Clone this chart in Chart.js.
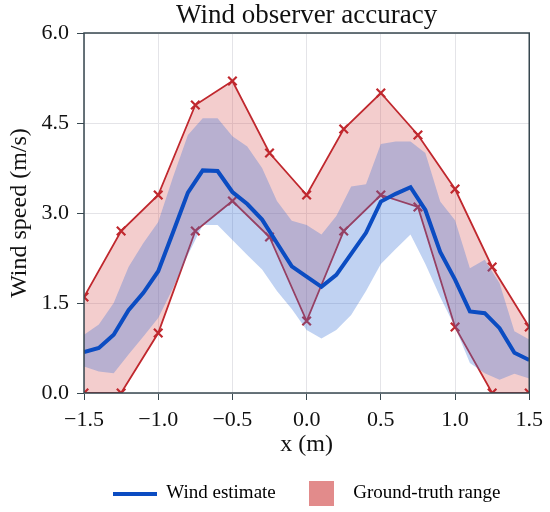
<!DOCTYPE html>
<html>
<head>
<meta charset="utf-8">
<script src="https://cdn.jsdelivr.net/npm/chart.js@4.4.1/dist/chart.umd.min.js"></script>
<style>
  html, body { margin: 0; padding: 0; background: #fff; }
  #wrap { width: 550px; height: 512px; }
</style>
</head>
<body>
<div id="wrap"><canvas id="chart"></canvas></div>
<script>
// ground-truth range, sampled every 0.25 m
var gtX = [-1.5, -1.25, -1.0, -0.75, -0.5, -0.25, 0.0, 0.25, 0.5, 0.75, 1.0, 1.25, 1.5];
var gtUpper = [1.6, 2.7, 3.3, 4.8, 5.2, 4.0, 3.3, 4.4, 5.0, 4.3, 3.4, 2.1, 1.1];
var gtLower = [0.0, 0.0, 1.0, 2.7, 3.2, 2.6, 1.2, 2.7, 3.3, 3.1, 1.1, 0.0, 0.0];

// observer estimate, sampled every 0.1 m
var estX = [-1.5, -1.4, -1.3, -1.2, -1.1, -1.0, -0.9, -0.8, -0.7, -0.6, -0.5,
            -0.4, -0.3, -0.2, -0.1, 0.0, 0.1, 0.2, 0.3, 0.4, 0.5,
            0.6, 0.7, 0.8, 0.9, 1.0, 1.1, 1.2, 1.3, 1.4, 1.5];
var estMean = [0.68, 0.75, 0.97, 1.38, 1.67, 2.03, 2.68, 3.34, 3.71, 3.70, 3.35,
               3.15, 2.89, 2.50, 2.11, 1.94, 1.77, 1.97, 2.32, 2.67, 3.19,
               3.32, 3.43, 3.05, 2.35, 1.89, 1.36, 1.33, 1.08, 0.67, 0.55];
var estUpper = [0.97, 1.14, 1.50, 2.10, 2.50, 2.85, 3.60, 4.30, 4.58, 4.58, 4.28,
                4.11, 3.75, 3.20, 2.87, 2.80, 2.64, 2.95, 3.44, 3.48, 4.15,
                4.19, 4.19, 4.00, 3.19, 2.88, 2.08, 2.22, 1.83, 1.03, 0.89];
var estLower = [0.44, 0.36, 0.33, 0.64, 0.94, 1.25, 1.75, 2.30, 2.80, 2.80, 2.55,
                2.30, 2.06, 1.70, 1.40, 1.05, 0.91, 1.05, 1.30, 1.70, 2.15,
                2.40, 2.64, 2.15, 1.60, 1.10, 0.50, 0.33, 0.22, 0.32, 0.24];

var xTicks = [-1.5, -1.0, -0.5, 0.0, 0.5, 1.0, 1.5];
var yTicks = [0.0, 1.5, 3.0, 4.5, 6.0];

var BLUE = '#0b4cc2';
var RED = '#c0282e';
var FONT = '"Liberation Serif", "Times New Roman", serif';

function pts(xs, ys) {
  return xs.map(function(x, i) { return {x: x, y: ys[i]}; });
}

function swatch(w, h, color) {
  var c = document.createElement('canvas');
  c.width = w;
  c.height = h;
  var g = c.getContext('2d');
  g.fillStyle = color;
  g.fillRect(0, 0, w, h);
  return c;
}
var lineSwatch = swatch(44, 4, BLUE);
var boxSwatch = swatch(25, 25, 'rgba(214,90,90,0.7)');

function fmt(v) {
  return v.toFixed(1).replace('-', '\u2212');
}

// box round the plot area, drawn over the data like the spines
var frame = {
  id: 'frame',
  afterDatasetsDraw: function(chart) {
    var a = chart.chartArea, ctx = chart.ctx;
    ctx.save();
    ctx.strokeStyle = '#37474f';
    ctx.lineWidth = 1.5;
    ctx.strokeRect(a.left, a.top, a.right - a.left, a.bottom - a.top);
    ctx.restore();
  }
};

new Chart(document.getElementById('chart'), {
  type: 'line',
  data: {
    datasets: [
      {
        label: 'Wind estimate',
        data: pts(estX, estMean),
        borderColor: BLUE,
        borderWidth: 4,
        pointRadius: 0,
        fill: false,
        clip: 0
      },
      {
        label: 'band lower',
        data: pts(estX, estLower),
        borderColor: 'rgba(0,0,0,0)',
        pointRadius: 0,
        fill: false,
        clip: 0
      },
      {
        label: 'band upper',
        data: pts(estX, estUpper),
        borderColor: 'rgba(0,0,0,0)',
        backgroundColor: 'rgba(60,115,215,0.32)',
        pointRadius: 0,
        fill: 1,
        clip: 0
      },
      {
        label: 'gt lower',
        data: pts(gtX, gtLower),
        borderColor: RED,
        borderWidth: 1.8,
        pointStyle: 'crossRot',
        pointRadius: 6,
        pointBorderWidth: 2.2,
        pointBorderColor: RED,
        fill: false,
        clip: 0
      },
      {
        label: 'Ground-truth range',
        data: pts(gtX, gtUpper),
        borderColor: RED,
        borderWidth: 1.8,
        backgroundColor: 'rgba(214,90,90,0.3)',
        pointStyle: 'crossRot',
        pointRadius: 6,
        pointBorderWidth: 2.2,
        pointBorderColor: RED,
        fill: 3,
        clip: 0
      }
    ]
  },
  options: {
    responsive: true,
    maintainAspectRatio: false,
    animation: false,
    layout: { padding: { left: 0, right: 5, top: 0, bottom: -1 } },
    plugins: {
      title: {
        display: true,
        fullSize: false,
        text: 'Wind observer accuracy',
        color: '#111',
        font: { family: FONT, size: 27, weight: 'normal' },
        padding: { top: 0, bottom: 0.6 }
      },
      legend: {
        position: 'bottom',
        fullSize: false,
        labels: {
          usePointStyle: true,
          pointStyleWidth: 44,
          padding: 24,
          color: '#111',
          font: { family: FONT, size: 19 },
          generateLabels: function(chart) {
            return [
              { text: 'Wind estimate', pointStyle: lineSwatch, datasetIndex: 0,
                fillStyle: BLUE, strokeStyle: BLUE, lineWidth: 0, hidden: false },
              { text: 'Ground-truth range', pointStyle: boxSwatch, datasetIndex: 4,
                fillStyle: 'rgba(214,90,90,0.7)', strokeStyle: 'rgba(0,0,0,0)', lineWidth: 0, hidden: false }
            ];
          }
        }
      },
      tooltip: { enabled: false }
    },
    scales: {
      x: {
        type: 'linear',
        min: -1.5,
        max: 1.5,
        afterBuildTicks: function(s) { s.ticks = xTicks.map(function(v) { return {value: v}; }); },
        afterFit: function(s) { s.height = 67; },
        ticks: {
          color: '#111',
          padding: 7,
          font: { family: FONT, size: 22 },
          callback: function(v) { return fmt(v); }
        },
        grid: { color: '#e4e4e8', tickColor: '#37474f', tickLength: 7 },
        border: { display: false },
        title: {
          display: true,
          text: 'x (m)',
          color: '#111',
          font: { family: FONT, size: 24 },
          padding: { top: 0, bottom: 1 }
        }
      },
      y: {
        min: 0,
        max: 6,
        afterBuildTicks: function(s) { s.ticks = yTicks.map(function(v) { return {value: v}; }); },
        afterFit: function(s) { s.width = 84; },
        ticks: {
          color: '#111',
          padding: 8,
          font: { family: FONT, size: 22 },
          callback: function(v) { return fmt(v); }
        },
        grid: { color: '#e4e4e8', tickColor: '#37474f', tickLength: 7 },
        border: { display: false },
        title: {
          display: true,
          text: 'Wind speed (m/s)',
          color: '#111',
          font: { family: FONT, size: 24 },
          padding: { top: 5.6, bottom: 0 }
        }
      }
    }
  },
  plugins: [frame]
});
</script>
</body>
</html>
